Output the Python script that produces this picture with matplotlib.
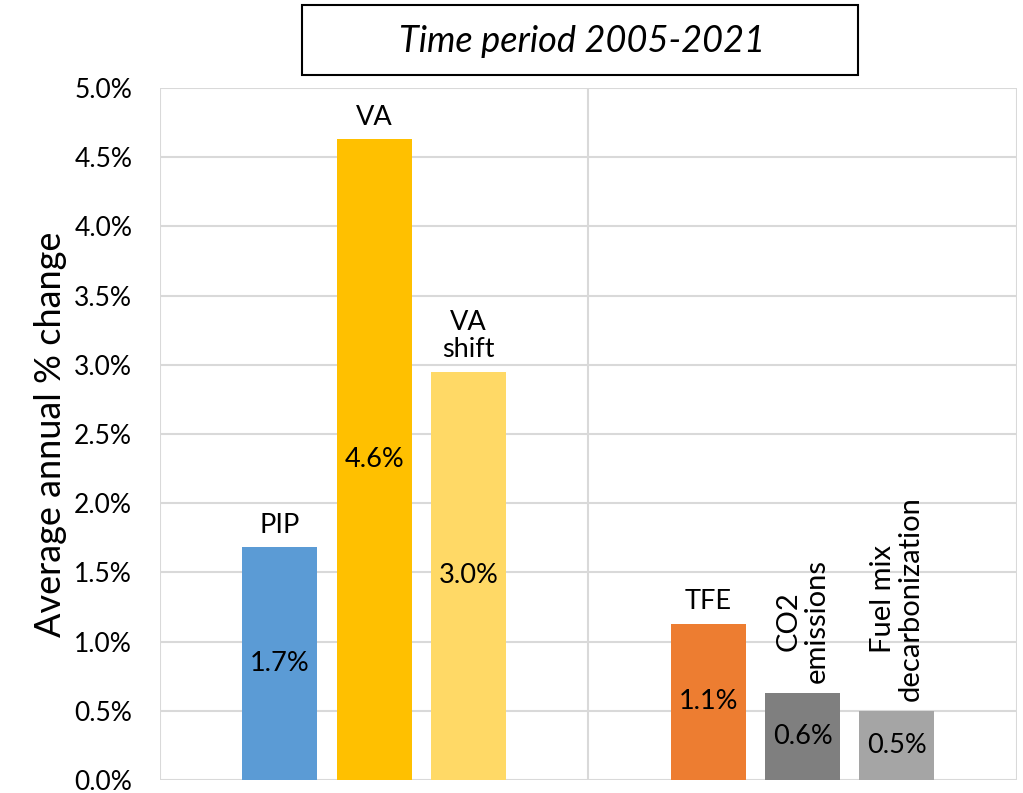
import matplotlib.pyplot as plt
from matplotlib.patches import Rectangle
from matplotlib.ticker import FuncFormatter

plt.rcParams['font.family'] = ['Lato', 'DejaVu Sans']

# Données
labels = ['PIP', 'VA', 'VA\nshift', 'TFE', 'CO2\nemissions', 'Fuel mix\ndecarbonization']
values = [1.68, 4.63, 2.95, 1.13, 0.63, 0.50]
value_labels = ['1.7%', '4.6%', '3.0%', '1.1%', '0.6%', '0.5%']
colors = ['#5b9bd5', '#ffc000', '#ffd966', '#ed7d31', '#7f7f7f', '#a5a5a5']
rotations = [0, 0, 0, 0, 90, 90]
positions = [0.28, 0.50, 0.72, 1.28, 1.50, 1.72]

fig = plt.figure(figsize=(10.23, 7.93), dpi=100)
ax = fig.add_axes([0.1564, 0.0164, 0.8376, 0.8726])

bars = ax.bar(positions, values, width=0.175, color=colors, zorder=3)

for b, lab, vl, rot in zip(bars, labels, value_labels, rotations):
    x = b.get_x() + b.get_width() / 2
    h = b.get_height()
    ax.text(x, h / 2, vl, ha='center', va='center', fontsize=19.5, zorder=4)
    # étiquettes verticales un peu plus grandes, comme dans l'original
    fs = 21 if rot else 19.5
    ax.annotate(lab, (x, h), xytext=(0, 7), textcoords='offset points',
                ha='center', va='bottom', fontsize=fs, rotation=rot,
                linespacing=1.1)

ax.set_xlim(0, 2)
ax.set_ylim(0, 5)
ax.set_yticks([i * 0.5 for i in range(11)])
ax.yaxis.set_major_formatter(FuncFormatter(lambda v, p: f'{v:.1f}%'))
ax.set_xticks([0, 1, 2])
ax.set_xticklabels([])
ax.tick_params(axis='both', length=0, labelsize=19, pad=20)
ax.grid(True, color='#d9d9d9', linewidth=1.5, zorder=0)
for s in ax.spines.values():
    s.set_visible(False)
ax.set_ylabel('Average annual % change', fontsize=26, labelpad=5)

# Titre encadré
fig.patches.append(Rectangle((302 / 1023, 1 - 75 / 793), 556 / 1023, 70 / 793,
                             transform=fig.transFigure, fill=False,
                             edgecolor='black', linewidth=1.5))
fig.text(582 / 1023, 1 - 42 / 793, 'Time period 2005-2021', ha='center',
         va='center', fontsize=26, style='italic')

fig.savefig('out.png', dpi=100)
